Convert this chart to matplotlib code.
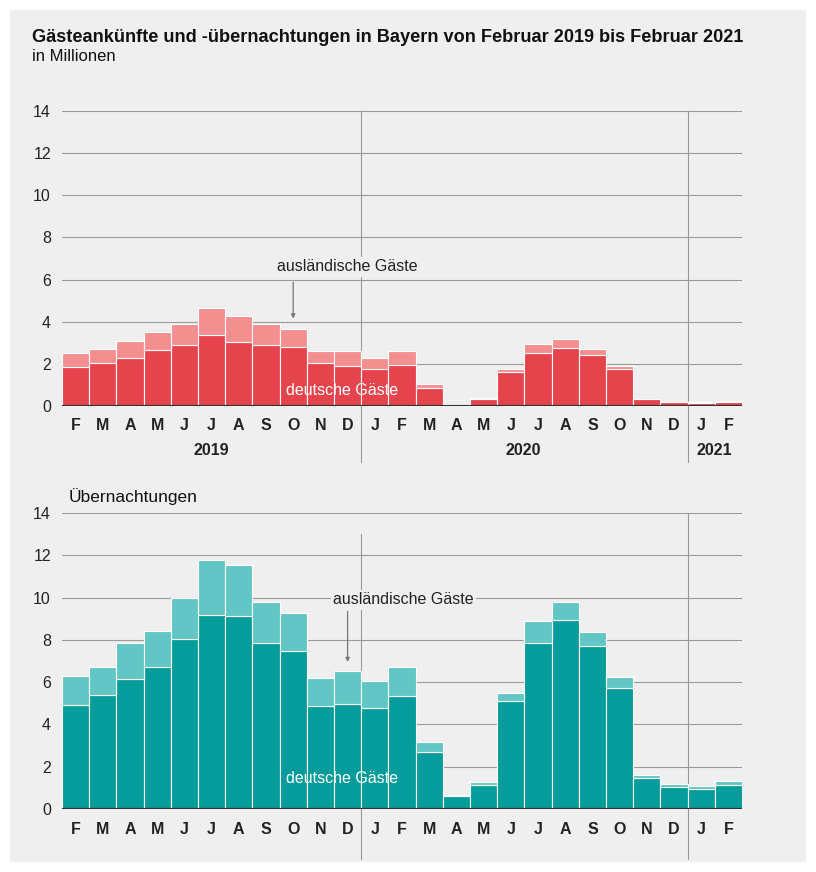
import matplotlib
matplotlib.use("Agg")
import matplotlib.pyplot as plt
from matplotlib.patches import Rectangle
import numpy as np

plt.rcParams['font.family'] = ['Liberation Sans', 'DejaVu Sans']

months = ["F", "M", "A", "M", "J", "J", "A", "S", "O", "N", "D",
          "J", "F", "M", "A", "M", "J", "J", "A", "S", "O", "N", "D",
          "J", "F"]
years = ["2019", "2020", "2021"]

# Ankünfte (Mio.)
ank_total = [2.50, 2.69, 3.08, 3.51, 3.91, 4.65, 4.26, 3.88, 3.65, 2.61, 2.61,
             2.29, 2.61, 1.03, 0.11, 0.38, 1.74, 2.93, 3.18, 2.69, 1.91, 0.35,
             0.21, 0.18, 0.25]
ank_dom = [1.84, 2.06, 2.29, 2.66, 2.91, 3.39, 3.05, 2.90, 2.82, 2.03, 1.91,
           1.77, 1.96, 0.87, 0.08, 0.35, 1.61, 2.52, 2.74, 2.44, 1.77, 0.31,
           0.18, 0.15, 0.21]

# Übernachtungen (Mio.)
ueb_total = [6.31, 6.71, 7.83, 8.43, 9.98, 11.76, 11.55, 9.80, 9.25, 6.18, 6.53,
             6.04, 6.73, 3.18, 0.66, 1.26, 5.50, 8.90, 9.81, 8.35, 6.23, 1.63,
             1.17, 1.09, 1.32]
ueb_dom = [4.94, 5.41, 6.15, 6.71, 8.06, 9.18, 9.14, 7.86, 7.49, 4.88, 4.98,
           4.79, 5.36, 2.68, 0.62, 1.13, 5.12, 7.84, 8.95, 7.73, 5.71, 1.47,
           1.03, 0.95, 1.13]

W, H = 816, 872
fig = plt.figure(figsize=(W / 100, H / 100), dpi=100)
fig.patch.set_facecolor("white")
bg = "#efefef"
fig.add_artist(Rectangle((10 / W, 10 / H), (806 - 10) / W, (862 - 10) / H,
                         transform=fig.transFigure, facecolor=bg,
                         edgecolor="none", zorder=-10))

def fx(px):
    return px / W

def fy(py):
    return 1 - py / H

x = np.arange(len(months))


def draw(ax, total, dom, c_dom, c_for, ann_idx, ann_text_xy, ann_arrow, dg_y):
    ax.set_facecolor("none")
    for s in ax.spines.values():
        s.set_visible(False)
    ax.set_xlim(-0.5, len(months) - 0.5)
    ax.set_ylim(0, 14)
    for v in range(2, 15, 2):
        ax.axhline(v, color="#9a9a9a", lw=0.8, zorder=0)
    foreign = np.array(total) - np.array(dom)
    ax.bar(x, dom, width=1.0, color=c_dom, edgecolor="white", linewidth=0.8, zorder=2)
    ax.bar(x, foreign, bottom=dom, width=1.0, color=c_for, edgecolor="white",
           linewidth=0.8, zorder=2)
    ax.axhline(0, color="#333333", lw=1.6, zorder=3)
    ax.set_yticks(range(0, 15, 2))
    ax.set_yticklabels([str(v) for v in range(0, 15, 2)], fontsize=11.5, color="#222222")
    ax.tick_params(axis="y", length=0, pad=8)
    ax.set_xticks(x)
    ax.set_xticklabels(months, fontsize=11.5, fontweight="bold", color="#222222")
    ax.tick_params(axis="x", length=0, pad=9)
    # annotation
    tx, ty = ann_text_xy
    ax.text(tx, ty, "ausländische Gäste",
            ha="center", va="center", fontsize=11.5, color="#222222",
            bbox=dict(boxstyle="square,pad=0.15", fc=bg, ec="none"),
            zorder=5)
    ax.annotate("", xy=(ann_idx, ann_arrow[1]), xytext=(ann_idx, ann_arrow[0]),
                arrowprops=dict(arrowstyle="-|>", color="#777777", lw=0.9,
                                mutation_scale=6, shrinkA=0, shrinkB=0),
                zorder=5)
    ax.text(9.8, dg_y, "deutsche Gäste", ha="center", va="center",
            fontsize=11.5, color="white", zorder=6)


# top chart
ax1 = fig.add_axes([fx(62), fy(406), fx(742) - fx(62), fy(111) - fy(406)])
c_red_dom = "#e6444c"
c_red_for = "#f3908f"
draw(ax1, ank_total, ank_dom, c_red_dom, c_red_for, 8,
     (10.0, 6.6), (5.88, 4.15), 0.75)
for xv in (10.5, 22.5):
    ax1.axvline(xv, ymin=-0.19, ymax=1, color="#999999", lw=0.8, zorder=1, clip_on=False)
ax1.text(5.0, -2.1, years[0], ha="center", va="center", fontsize=11.5,
         fontweight="bold", color="#222222")
ax1.text(16.45, -2.1, years[1], ha="center", va="center", fontsize=11.5,
         fontweight="bold", color="#222222")
ax1.text(23.5, -2.1, years[2], ha="center", va="center", fontsize=11.5,
         fontweight="bold", color="#222222")

# bottom chart
ax2 = fig.add_axes([fx(62), fy(809), fx(742) - fx(62), fy(513) - fy(809)])
c_teal_dom = "#069c9b"
c_teal_for = "#63c6c6"
draw(ax2, ueb_total, ueb_dom, c_teal_dom, c_teal_for, 10,
     (12.05, 9.9), (9.35, 6.95), 1.45)
ax2.axvline(10.5, ymin=-0.17, ymax=13.0 / 14, color="#999999", lw=0.8, zorder=1, clip_on=False)
ax2.axvline(22.5, ymin=-0.17, ymax=1, color="#999999", lw=0.8, zorder=1, clip_on=False)

fig.text(fx(32), fy(38), "Gästeankünfte und -übernachtungen in Bayern von Februar 2019 bis Februar 2021",
         fontsize=13.1, fontweight="bold", color="#111111", ha="left", va="center")
fig.text(fx(32), fy(56), "in Millionen", fontsize=12, color="#111111", ha="left", va="center")
fig.text(fx(69), fy(497), "Übernachtungen", fontsize=12.5, color="#111111", ha="left", va="center")

fig.savefig("out.png", dpi=100, facecolor=fig.get_facecolor())
